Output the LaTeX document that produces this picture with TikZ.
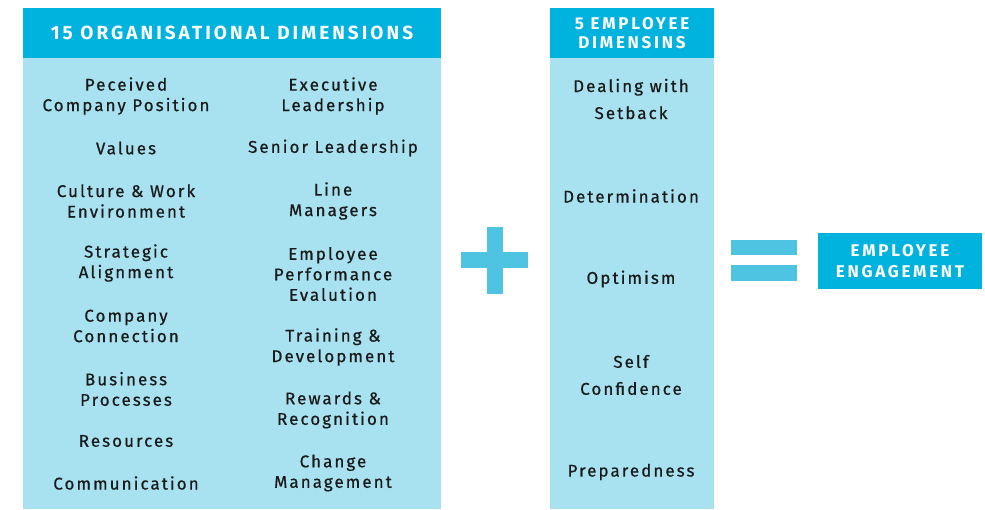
\documentclass[tikz,border=0pt]{standalone}
\usepackage{fontspec}
\setmainfont{Fira Sans}[LetterSpace=12]
\newfontfamily\itemfont{Fira Sans}[LetterSpace=12, FakeBold=0.6]
\newfontfamily\headfont{Fira Sans}[LetterSpace=16]
\usetikzlibrary{positioning}
\definecolor{hdr}{HTML}{00B3DF}
\definecolor{pale}{HTML}{A8E2F0}
\definecolor{sign}{HTML}{4FC4E2}
\definecolor{ink}{HTML}{1A1A1A}

\begin{document}
\begin{tikzpicture}[x=1pt,y=-1pt,
  head/.style={fill=hdr,text=white,inner sep=0pt,align=center,font=\headfont\bfseries\fontsize{19}{19}\selectfont},
  pane/.style={fill=pale,inner sep=0pt,minimum height=451},
  item/.style={text=ink,inner sep=0pt,align=center,font=\itemfont\fontsize{17}{20.5}\selectfont},
  trait/.style={item,font=\itemfont\fontsize{17}{27}\selectfont}]
  \useasboundingbox (0,0) rectangle (985,509);

  % organisational dimensions
  \node[head, minimum width=418, minimum height=50] (oh) at (232,33) {15 ORGANISATIONAL DIMENSIONS};
  \node[pane, minimum width=418, below=0pt of oh] (ob) {};

  \node[item] (c1) at (126,96)  {Peceived\\Company Position};
  \node[item] (c2) at (126,148) {Values};
  \node[item] (c3) at (126,201) {Culture \& Work\\Environment};
  \node[item] (c4) at (126,263) {Strategic\\Alignment};
  \node[item] (c5) at (126,326) {Company\\Connection};
  \node[item] (c6) at (126,389) {Business\\Processes};
  \node[item] (c7) at (126,441) {Resources};
  \node[item] (c8) at (126,483) {Communication};

  \node[item] (d1) at (333,96)  {Executive\\Leadership};
  \node[item] (d2) at (333,148) {Senior Leadership};
  \node[item] (d3) at (333,201) {Line\\Managers};
  \node[item] (d4) at (333,274) {Employee\\Performance\\Evalution};
  \node[item] (d5) at (333,347) {Training \&\\Development};
  \node[item] (d6) at (333,410) {Rewards \&\\Recognition};
  \node[item] (d7) at (333,473) {Change\\Management};

  % plus
  \fill[sign] (461,252) rectangle (528,268);
  \fill[sign] (487,227) rectangle (503,294);

  % employee dimensions
  \node[head, minimum width=164, minimum height=50,
        font=\headfont\bfseries\fontsize{17}{19}\selectfont] (mh) at (632,33) {5 EMPLOYEE\\DIMENSINS};
  \node[pane, minimum width=164, below=0pt of mh] (mb) {};

  \node[trait] (e1) at (631,99)  {Dealing with\\Setback};
  \node[trait] (e2) at (631,196) {Determination};
  \node[trait] (e3) at (631,279) {Optimism};
  \node[trait] (e4) at (631,375) {Self\\Confidence};
  \node[trait] (e5) at (631,472) {Preparedness};

  % equals
  \fill[sign] (731,240) rectangle (797,255);
  \fill[sign] (731,265) rectangle (797,281);

  \node[head, minimum width=164, minimum height=56,
        font=\headfont\bfseries\fontsize{17}{21}\selectfont] (eg) at (900,261) {EMPLOYEE\\ENGAGEMENT};
\end{tikzpicture}
\end{document}
